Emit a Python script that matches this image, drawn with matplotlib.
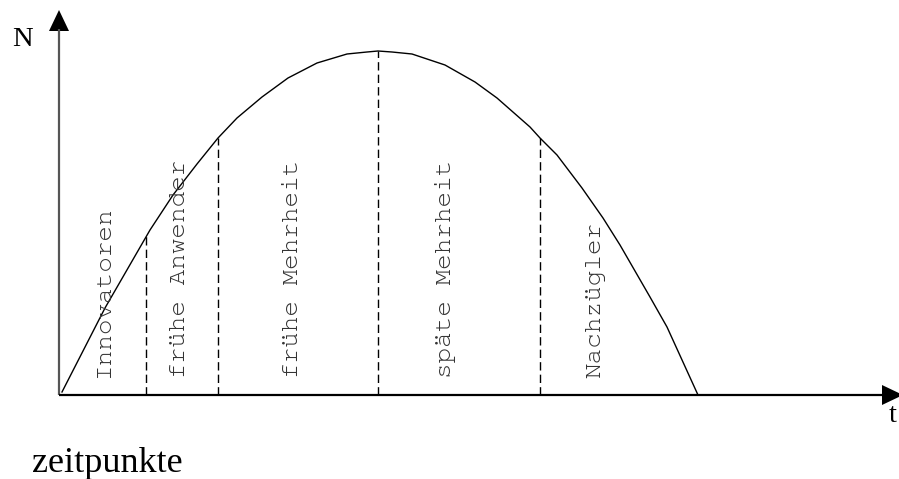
#!/usr/bin/env python3
"""Adoption curve (Diffusion of innovations) with adopter groups."""
import matplotlib
matplotlib.use("Agg")
import matplotlib.pyplot as plt

# curve: time t and number of adopters N
curve_t = [3, 46, 91, 114, 138, 159, 178, 203, 229, 258, 288, 308, 319,
           333, 353, 386, 416, 438, 471, 481, 498, 523, 544, 561, 591, 608, 639]
curve_n = [3, 87, 165, 200, 231, 257, 277, 298, 317, 332, 341, 343, 344,
           343, 341, 330, 313, 297, 268, 257, 240, 207, 177, 150, 98, 68, 0]

# group boundaries (dashed lines) and their height on the curve
boundary_t = [87, 159, 319, 481]
boundary_n = [160, 257, 344, 257]

groups = ["Innovatoren", "frühe Anwender", "frühe Mehrheit",
          "späte Mehrheit", "Nachzügler"]

# layout: baseline position of each rotated group label
LABEL_X = [50, 126, 239, 392, 541]
LABEL_Y = 17

W, H = 899, 479
fig = plt.figure(figsize=(W / 100, H / 100), dpi=100)
ax = fig.add_axes([0, 0, 1, 1])
ax.set_xlim(-59, W - 59)
ax.set_ylim(-(H - 395), 395)
ax.axis("off")

# axes with filled arrow heads
ax.plot([0, 0], [0, 366], color="#555555", lw=1.6, solid_capstyle="butt")
ax.fill([-10, 10, 0], [364, 364, 385], color="black", lw=0)
ax.plot([0, 825], [0, 0], color="black", lw=1.6, solid_capstyle="butt")
ax.fill([823, 823, 844], [-10, 10, 0], color="black", lw=0)

ax.plot(curve_t, curve_n, color="black", lw=1.0)
for bt, bn in zip(boundary_t, boundary_n):
    ax.plot([bt, bt], [0, bn], color="black", lw=1.0, linestyle=(0, (6, 3)))

mono = ["Courier New", "Nimbus Mono PS", "FreeMono", "Liberation Mono"]
for x, name in zip(LABEL_X, groups):
    ax.text(x, LABEL_Y, name, rotation=90, rotation_mode="anchor",
            ha="left", va="baseline", fontsize=18.7,
            family=mono, color="#333333")

serif = ["Liberation Serif", "DejaVu Serif"]
ax.text(-47, 349, "N", fontsize=20.5, family=serif, ha="left", va="baseline")
ax.text(830, -27, "t", fontsize=20.5, family=serif, ha="left", va="baseline")
ax.text(-27, -77, "zeitpunkte", fontsize=26, family=serif,
        ha="left", va="baseline")

fig.savefig("out.png", dpi=100)
